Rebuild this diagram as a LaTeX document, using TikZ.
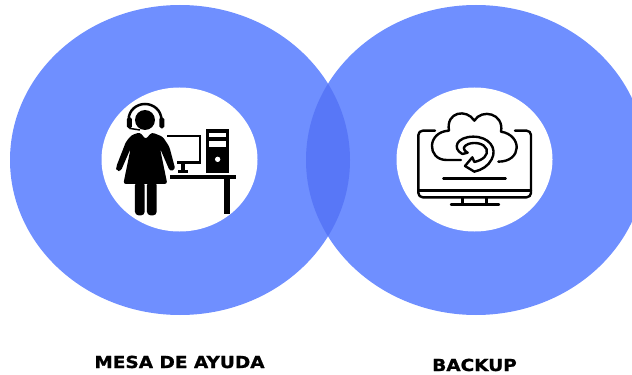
\documentclass[tikz,border=0pt]{standalone}
\usepackage{fontspec}
\setmainfont{DejaVu Sans}[BoldFeatures={FakeBold=1.2,FakeStretch=1.12}]
\definecolor{ringblue}{HTML}{6F8FFF}
\definecolor{overlapblue}{HTML}{5877F7}
\tikzset{
  ring/.style={fill=ringblue, draw=none},
  hole/.style={fill=white, draw=none},
  caption/.style={font=\bfseries\fontsize{9.4pt}{11pt}\selectfont, inner sep=0pt, anchor=base},
  iconline/.style={draw=black, line width=0.48mm, line cap=round, line join=round, fill=none}
}
\begin{document}
\begin{tikzpicture}[x=0.02cm, y=-0.02cm]

\useasboundingbox (0,0) rectangle (632,375);
\clip (0,0) rectangle (632,375);

\coordinate (L) at (180,160); \coordinate (R) at (476,160);

% rings
\fill[ring] (L) ellipse [x radius=170, y radius=155];
\fill[ring] (R) ellipse [x radius=170, y radius=155];
\begin{scope}
\clip (L) ellipse [x radius=170, y radius=155];
\fill[overlapblue] (R) ellipse [x radius=170, y radius=155];
\end{scope}
\fill[hole] (179.5,159.5) ellipse [x radius=78, y radius=72];
\fill[hole] (474.5,159.5) ellipse [x radius=78, y radius=72];

% person at desk (units of 1/3 px)
\begin{scope}[shift={(90,80)}, x=0.00667cm, y=-0.00667cm]
\fill (165,120) circle [radius=30];
\draw[line width=0.5mm] (116,118) arc [start angle=180, end angle=360, x radius=49, y radius=46];
\fill[rounded corners=1] (111,112) rectangle (126,145);
\fill[rounded corners=1] (208,112) rectangle (223,145);
\draw[line width=0.3mm] (118,145) -- (150,150);
\fill[rounded corners=1.5] (150,157) -- (125,165) -- (108,185) -- (78,262) -- (80,272) -- (92,274) -- (122,205)
  -- (100,312) -- (232,312) -- (210,205) -- (240,274) -- (256,268) -- (238,200) -- (218,170)
  -- (185,157) -- (167,178) -- cycle;
\fill[rounded corners=2] (135,305) rectangle (164,406);
\fill[rounded corners=2] (171,305) rectangle (200,406);
% monitor
\draw[line width=0.5mm] (232,168) -- (330,168) -- (330,248) -- (262,248);
\fill (274,248) rectangle (284,272);
\fill (264,270) rectangle (295,278);
% tower
\fill (348,148) rectangle (418,280);
\fill[white] (358,160) rectangle (408,172);
\fill[white] (358,182) rectangle (408,200);
\fill[white] (383,238) circle [radius=8];
% desk
\fill (240,286) rectangle (437,298);
\fill (403,298) rectangle (420,402);
\end{scope}

% monitor with cloud (units of 1/3 px)
\begin{scope}[shift={(385,80)}, x=0.00667cm, y=-0.00667cm]
\draw[iconline, rounded corners=2.5pt] (150,152) -- (100,152) -- (100,352) -- (438,352) -- (438,152) -- (390,152);
\draw[iconline] (100,332) -- (438,332);
\draw[iconline] (232,352) -- (232,374);
\draw[iconline] (305,352) -- (305,374);
\draw[iconline] (198,374) -- (342,374);
\draw[iconline] (175,296) -- (362,296);
% cloud
\draw[iconline] (228,240) -- (185,240)
  .. controls (125,240) and (125,155) .. (192,152)
  .. controls (182,95) and (245,85) .. (268,122)
  .. controls (290,85) and (358,100) .. (348,155)
  .. controls (412,165) and (412,245) .. (340,245);
% round arrow
\draw[iconline] (232,222) .. controls (200,205) and (215,170) .. (265,170)
  .. controls (312,170) and (338,205) .. (320,238)
  .. controls (310,258) and (290,270) .. (268,275)
  -- (240,258) -- (262,232) -- (268,246)
  .. controls (295,240) and (310,225) .. (305,208)
  .. controls (298,190) and (270,185) .. (250,192)
  .. controls (235,198) and (230,208) .. (248,218) -- (232,222);
\end{scope}

\node[caption] (mesa) at (179.5,368) {MESA DE AYUDA};
\node[caption] (backup) at (474.5,371) {BACKUP};

\end{tikzpicture}
\end{document}
